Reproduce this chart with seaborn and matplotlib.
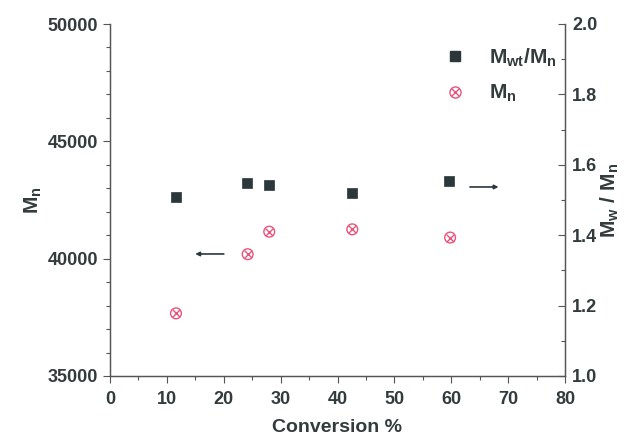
import matplotlib
matplotlib.use("Agg")
import matplotlib.pyplot as plt
import seaborn as sns
import numpy as np
from matplotlib.ticker import MultipleLocator
from matplotlib.legend_handler import HandlerTuple
from matplotlib.lines import Line2D

sns.set_style("ticks")
plt.rcParams['font.family'] = ['Liberation Sans', 'DejaVu Sans']
plt.rcParams['font.weight'] = 'bold'
plt.rcParams['mathtext.fontset'] = 'custom'
plt.rcParams['mathtext.rm'] = 'Liberation Sans:bold'
plt.rcParams['mathtext.it'] = 'Liberation Sans:bold'
plt.rcParams['mathtext.bf'] = 'Liberation Sans:bold'
plt.rcParams['mathtext.default'] = 'bf'

conv_pdi = [11.6, 24.0, 28.0, 42.6, 59.6]
pdi = [1.509, 1.549, 1.543, 1.519, 1.555]
conv_mn = [11.6, 24.2, 28.0, 42.6, 59.8]
mn = [37670, 40190, 41150, 41250, 40900]

txt = '#333b3d'
sq_col = '#2b373b'
pink = '#e8547c'

fig = plt.figure(figsize=(6.35, 4.38), dpi=100)
ax = fig.add_axes([110/635, 1-376/438, 455/635, 352/438])
ax2 = ax.twinx()

sns.scatterplot(x=conv_mn, y=mn, ax=ax, marker='o', s=60, facecolor='none',
                edgecolor=pink, linewidth=1.0, zorder=3)
sns.scatterplot(x=conv_mn, y=mn, ax=ax, marker='x', s=30, color=pink,
                linewidth=1.0, zorder=3)
sns.scatterplot(x=conv_pdi, y=pdi, ax=ax2, marker='s', s=55, color=sq_col,
                edgecolor=sq_col, linewidth=0.5, zorder=3)

ax.set_xlim(0, 80)
ax.set_ylim(35000, 50000)
ax2.set_ylim(1.0, 2.0)
ax.xaxis.set_major_locator(MultipleLocator(10))
ax.xaxis.set_minor_locator(MultipleLocator(5))
ax.yaxis.set_major_locator(MultipleLocator(5000))
ax.yaxis.set_minor_locator(MultipleLocator(1000))
ax2.yaxis.set_major_locator(MultipleLocator(0.2))
ax2.yaxis.set_minor_locator(MultipleLocator(0.1))
ax2.set_yticklabels([f'{v:.1f}' for v in ax2.get_yticks()])

for a in (ax, ax2):
    a.spines['top'].set_visible(False)
    for s in a.spines.values():
        s.set_color('#555555')
        s.set_linewidth(0.9)
ax.tick_params(axis='both', which='major', direction='out', length=5, width=0.8,
               labelsize=13, colors='#555555', labelcolor=txt)
ax.tick_params(axis='x', which='major', pad=6)
ax.tick_params(axis='both', which='minor', direction='out', length=3, width=0.8, colors='#555555')
ax2.tick_params(axis='y', which='major', direction='in', length=5, width=0.8,
                labelsize=13, colors='#555555', labelcolor=txt, pad=5)
ax2.tick_params(axis='y', which='minor', direction='in', length=3, width=0.8, colors='#555555')
for lab in ax.get_xticklabels() + ax.get_yticklabels() + ax2.get_yticklabels():
    lab.set_fontweight('bold')

ax.set_xlabel('Conversion %', fontsize=14, fontweight='bold', color=txt, labelpad=8)
ax.set_ylabel(r'$\mathbf{M_n}$', fontsize=15, color=txt, labelpad=3)
ax2.set_ylabel(r'$\mathbf{M_w\ /\ M_n}$', fontsize=15, color=txt, labelpad=1)

ax.annotate('', xy=(14.5, 40200), xytext=(20.5, 40200),
            arrowprops=dict(arrowstyle='-|>', color='#2b373b', lw=1.2, mutation_scale=6))
ax2.annotate('', xy=(68.8, 1.537), xytext=(62.8, 1.537),
             arrowprops=dict(arrowstyle='-|>', color='#2b373b', lw=1.2, mutation_scale=6))

h_sq = Line2D([], [], marker='s', linestyle='none', color=sq_col, markersize=7)
h_o = Line2D([], [], marker='o', linestyle='none', markerfacecolor='none',
             markeredgecolor=pink, markersize=8, markeredgewidth=1.0)
h_x = Line2D([], [], marker='x', linestyle='none', color=pink, markersize=5.5, markeredgewidth=1.0)
leg = ax2.legend([h_sq, (h_o, h_x)], [r'$\mathbf{M_{wt}/M_n}$', r'$\mathbf{M_n}$'],
                 handler_map={tuple: HandlerTuple(ndivide=1, pad=0)},
                 loc='upper left', bbox_to_anchor=(0.69, 0.99), frameon=False,
                 fontsize=15, labelspacing=0.7, handletextpad=1.0, handlelength=1.2)
for t in leg.get_texts():
    t.set_color(txt)

fig.savefig('out.png', dpi=100)
